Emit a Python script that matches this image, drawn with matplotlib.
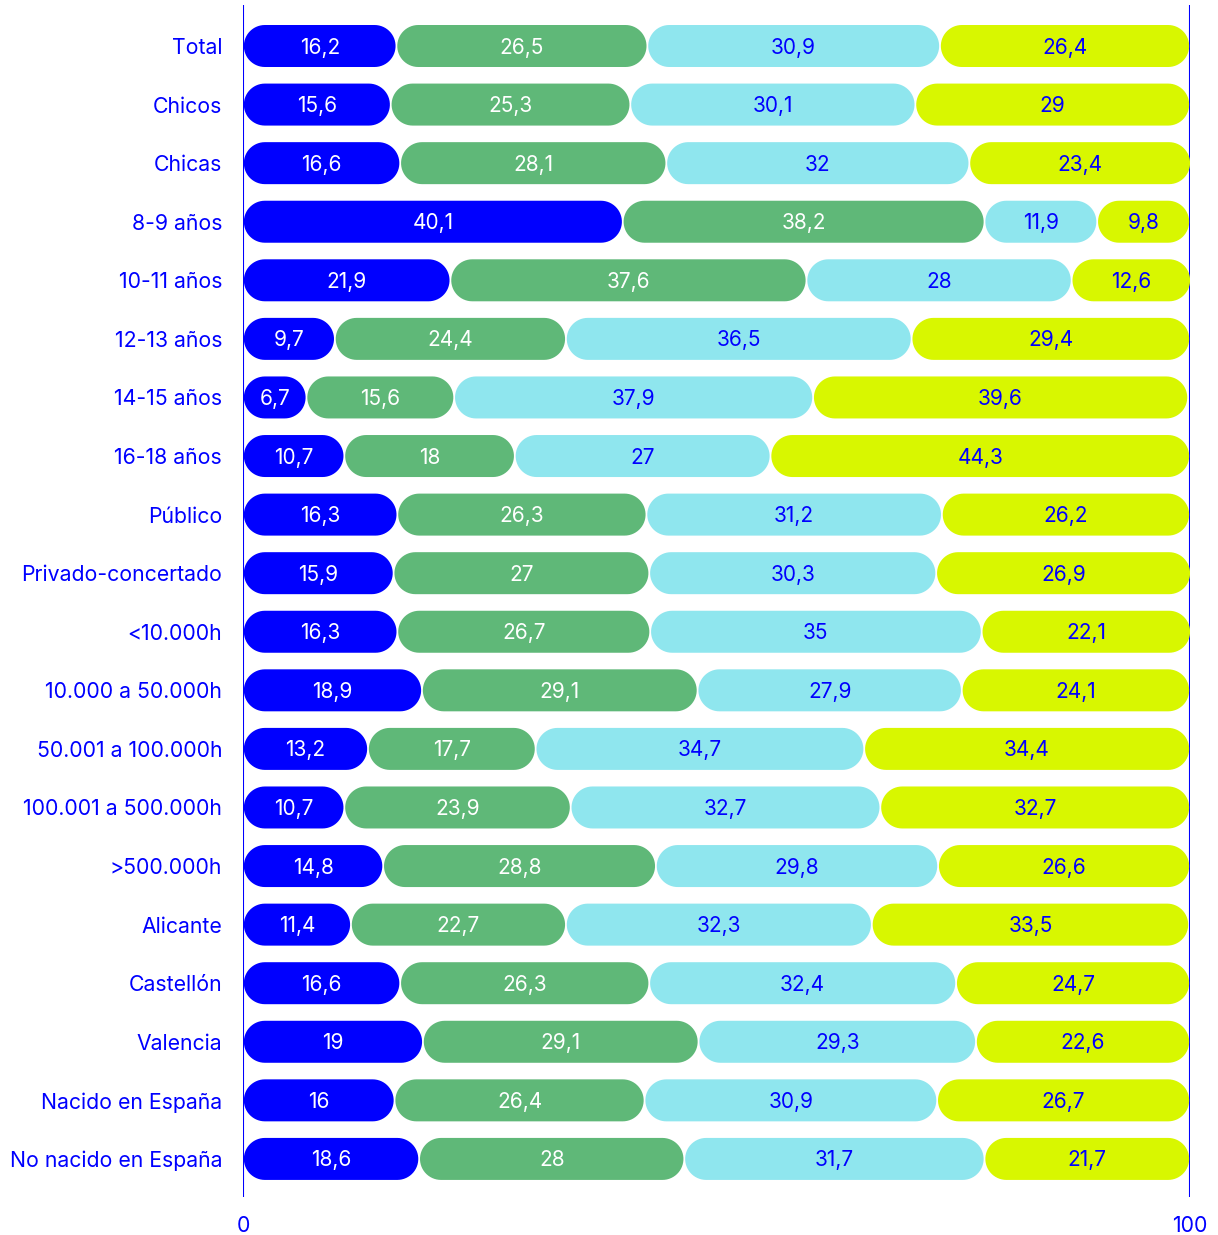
import matplotlib
matplotlib.use("Agg")
import matplotlib.pyplot as plt
import numpy as np
from matplotlib.patches import PathPatch
from matplotlib.path import Path

plt.rcParams['font.family'] = ['Inter', 'DejaVu Sans']

categories = ["Total", "Chicos", "Chicas", "8-9 años", "10-11 años", "12-13 años",
              "14-15 años", "16-18 años", "Público", "Privado-concertado",
              "<10.000h", "10.000 a 50.000h", "50.001 a 100.000h",
              "100.001 a 500.000h", ">500.000h", "Alicante", "Castellón",
              "Valencia", "Nacido en España", "No nacido en España"]

s1 = [16.2, 15.6, 16.6, 40.1, 21.9, 9.7, 6.7, 10.7, 16.3, 15.9,
      16.3, 18.9, 13.2, 10.7, 14.8, 11.4, 16.6, 19, 16, 18.6]
s2 = [26.5, 25.3, 28.1, 38.2, 37.6, 24.4, 15.6, 18, 26.3, 27,
      26.7, 29.1, 17.7, 23.9, 28.8, 22.7, 26.3, 29.1, 26.4, 28]
s3 = [30.9, 30.1, 32, 11.9, 28, 36.5, 37.9, 27, 31.2, 30.3,
      35, 27.9, 34.7, 32.7, 29.8, 32.3, 32.4, 29.3, 30.9, 31.7]
s4 = [26.4, 29, 23.4, 9.8, 12.6, 29.4, 39.6, 44.3, 26.2, 26.9,
      22.1, 24.1, 34.4, 32.7, 26.6, 33.5, 24.7, 22.6, 26.7, 21.7]

series = [s1, s2, s3, s4]
colors = ["#0000FF", "#5FB878", "#8FE6EE", "#D8F700"]
text_colors = ["white", "white", "#0000FF", "#0000FF"]
BLUE = "#0000FF"

W, H = 1218, 1235
fig = plt.figure(figsize=(W / 100, H / 100), dpi=100)
ax = fig.add_axes([243 / W, 1 - 1197 / H, (1190 - 243) / W, (1197 - 5) / H])

y = np.arange(len(categories))
bar_h = 0.717
ax.set_xlim(0, 100)
ax.set_ylim(19.65, -0.70)

# data units per pixel, for the round ends
xpp = 100 / (1190 - 243)
ypp = (19.65 + 0.70) / (1197 - 5)


def capsule(x0, y0, w, h):
    ry = h / 2
    rx = min(ry / ypp * xpp, w / 2)
    yc = y0 + h / 2
    t = np.linspace(-np.pi / 2, np.pi / 2, 30)
    right = np.column_stack([x0 + w - rx + rx * np.cos(t), yc + ry * np.sin(t)])
    t2 = np.linspace(np.pi / 2, 3 * np.pi / 2, 30)
    leftp = np.column_stack([x0 + rx + rx * np.cos(t2), yc + ry * np.sin(t2)])
    verts = np.vstack([right, leftp, right[:1]])
    codes = [Path.MOVETO] + [Path.LINETO] * (len(verts) - 2) + [Path.CLOSEPOLY]
    return Path(verts, codes)


gap = 0.09
left = np.zeros(len(categories))
for vals, col, tcol in zip(series, colors, text_colors):
    vals = np.array(vals, dtype=float)
    bars = ax.barh(y, vals, left=left, height=bar_h, color=col)
    for rect, v in zip(bars, vals):
        x0, y0 = rect.get_x(), rect.get_y()
        w, h = rect.get_width(), rect.get_height()
        rect.set_visible(False)
        ax.add_patch(PathPatch(capsule(x0 + gap, y0, w - 2 * gap, h),
                               facecolor=col, edgecolor="none", zorder=2))
        lab = ("%g" % v).replace(".", ",")
        ax.text(x0 + w / 2, y0 + h / 2 + 1.5 * ypp, lab, ha="center", va="center",
                color=tcol, fontsize=15, zorder=3)
    left += vals

ax.axvline(0, color=BLUE, linewidth=1.5, zorder=1)
ax.axvline(100, color=BLUE, linewidth=1.5, zorder=1)

for sp in ax.spines.values():
    sp.set_visible(False)

ax.set_yticks(y)
ax.set_yticklabels(categories, color=BLUE, fontsize=15.3)
ax.set_xticks([0, 100])
ax.set_xticklabels(["0", "100"], color=BLUE, fontsize=15.3)
ax.tick_params(axis="y", length=0, pad=15)
ax.tick_params(axis="x", length=0, pad=14)

fig.savefig("out.png", dpi=100)
